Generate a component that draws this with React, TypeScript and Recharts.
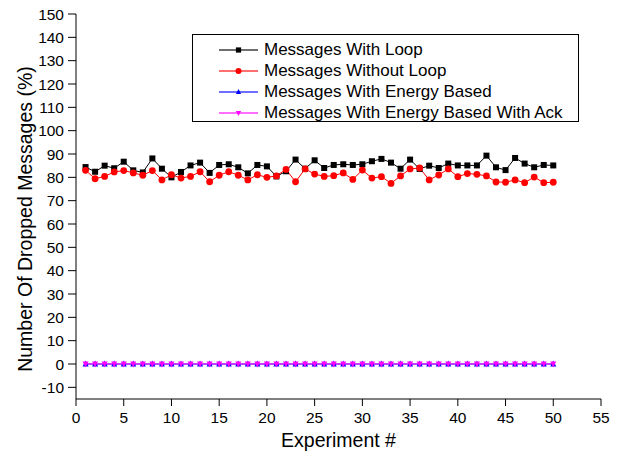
import React from 'react'
import { LineChart, Line, XAxis, YAxis, Label } from 'recharts'

const experiments = Array.from({ length: 50 }, (_, i) => i + 1)

const withLoop = [
  84.4, 82.4, 85, 83.9, 86.7, 83, 82.1, 88.1, 83.7, 80,
  82.3, 85.1, 86.3, 81.9, 85.3, 85.6, 84.3, 81.7, 85.3, 84.7,
  80.4, 82.6, 87.6, 83.7, 87.3, 84, 85.3, 85.6, 85.3, 85.6,
  86.9, 87.9, 86.3, 83.7, 87.6, 83.6, 85, 84, 85.9, 85.1,
  85.1, 85.1, 89.3, 84.3, 83.1, 88.3, 85.9, 84.3, 85.3, 85.1,
]

const withoutLoop = [
  83, 79.4, 80.4, 82.3, 82.9, 81.9, 80.9, 82.9, 78.9, 81.1,
  79.7, 80.4, 82.4, 78.1, 80.9, 82.4, 80.9, 78.9, 81.1, 80,
  80.6, 83.4, 78.1, 83.6, 81.4, 80.4, 80.7, 81.9, 79.1, 83.1,
  79.7, 80.3, 77.4, 80.6, 83.6, 84, 78.9, 81, 83.6, 80.3,
  81.6, 81.3, 80.6, 78, 77.9, 78.9, 77.7, 80.1, 77.7, 77.9,
]

const energyBased = experiments.map(() => 0)
const energyBasedAck = experiments.map(() => 0)

const xTicks = [0, 5, 10, 15, 20, 25, 30, 35, 40, 45, 50, 55]
const xMinor = [2.5, 7.5, 12.5, 17.5, 22.5, 27.5, 32.5, 37.5, 42.5, 47.5, 52.5]
const yTicks = [-10, 0, 10, 20, 30, 40, 50, 60, 70, 80, 90, 100, 110, 120, 130, 140, 150]
const yMinor = [-15, -5, 5, 15, 25, 35, 45, 55, 65, 75, 85, 95, 105, 115, 125, 135, 145]

const data = experiments.map((x, i) => ({
  x,
  loop: withLoop[i],
  noLoop: withoutLoop[i],
  energy: energyBased[i],
  energyAck: energyBasedAck[i],
}))

const series = [
  { key: 'loop', name: 'Messages With Loop', color: '#000000', shape: 'square' },
  { key: 'noLoop', name: 'Messages Without Loop', color: '#ff0000', shape: 'circle' },
  { key: 'energy', name: 'Messages With Energy Based', color: '#0000ff', shape: 'up' },
  { key: 'energyAck', name: 'Messages With Energy Based With Ack', color: '#ff00ff', shape: 'down' },
]

const FONT = '"Liberation Sans", Arial, sans-serif'

function Marker({ cx, cy, shape, color, s = 3 }: any) {
  if (cx == null || cy == null) return <g />
  if (shape === 'square')
    return <rect x={cx - s} y={cy - s} width={2 * s} height={2 * s} fill={color} />
  if (shape === 'circle') return <circle cx={cx} cy={cy} r={s + 0.4} fill={color} />
  if (shape === 'up')
    return <polygon points={`${cx},${cy - s - 0.5} ${cx - s},${cy + s - 0.5} ${cx + s},${cy + s - 0.5}`} fill={color} />
  return <polygon points={`${cx},${cy + s + 0.5} ${cx - s},${cy - s + 0.5} ${cx + s},${cy - s + 0.5}`} fill={color} />
}

const emptyTick = () => <g />

// y title sits a bit below the plot centre in the original
const yTitle = () => (
  <text
    transform="translate(25,219) rotate(-90)"
    textAnchor="middle"
    dominantBaseline="central"
    fill="#000"
    fontSize={19.5}
    fontFamily={FONT}
  >
    Number Of Dropped Messages (%)
  </text>
)

function LegendBox() {
  return (
    <div
      style={{
        position: 'absolute',
        left: 192,
        top: 34,
        border: '1px solid #000',
        width: 385,
        height: 86,
        fontFamily: FONT,
        fontSize: 17,
        background: '#fff',
      }}
    >
      {series.map((s, i) => (
        <div key={s.key} style={{ position: 'absolute', left: 26, top: 4 + i * 21, height: 21, display: 'flex', alignItems: 'center' }}>
          <svg width={40} height={12} style={{ marginRight: 5 }}>
            <line x1={0} y1={6} x2={39} y2={6} stroke={s.color} strokeWidth={1.5} opacity={0.75} />
            <Marker cx={19.5} cy={6} shape={s.shape} color={s.color} s={2.6} />
          </svg>
          <span style={{ color: '#000', whiteSpace: 'nowrap' }}>{s.name}</span>
        </div>
      ))}
    </div>
  )
}

export default function App() {
  return (
    <div style={{ position: 'absolute', left: 0, top: 0, width: 620, height: 458, background: '#fff' }}>
      <LineChart width={620} height={458} data={data} margin={{ top: 14, right: 19, bottom: 0, left: 0 }}>
        <XAxis
          xAxisId="main"
          dataKey="x"
          type="number"
          domain={[0, 55]}
          ticks={xTicks}
          interval={0}
          height={59}
          tickSize={7}
          tickMargin={6}
          stroke="#000"
          tick={{ fill: '#000', fontSize: 15.5, fontFamily: FONT }}
          allowDataOverflow
        >
          <Label value="Experiment #" position="insideBottom" offset={11} style={{ fill: '#000', fontSize: 19.5, fontFamily: FONT }} />
        </XAxis>
        <XAxis xAxisId="minor" dataKey="x" type="number" domain={[0, 55]} ticks={xMinor} interval={0} height={0} tickSize={4} stroke="#000" tick={emptyTick} axisLine={false} />
        <XAxis xAxisId="top" orientation="top" dataKey="x" type="number" domain={[0, 55]} height={0} tick={false} tickLine={false} stroke="#000" />
        <YAxis
          yAxisId="main"
          type="number"
          domain={[-15, 150]}
          ticks={yTicks}
          interval={0}
          width={76}
          tickSize={8}
          tickMargin={4}
          stroke="#000"
          tick={{ fill: '#000', fontSize: 15.5, fontFamily: FONT }}
          allowDataOverflow
        >
          <Label content={yTitle} />
        </YAxis>
        <YAxis yAxisId="minor" type="number" domain={[-15, 150]} ticks={yMinor} interval={0} width={0} tickSize={4} stroke="#000" tick={emptyTick} axisLine={false} />
        <YAxis yAxisId="right" orientation="right" type="number" domain={[-15, 150]} width={0} tick={false} tickLine={false} stroke="#000" />
        {series.map((s) => (
          <Line
            key={s.key}
            xAxisId="main"
            yAxisId="main"
            dataKey={s.key}
            name={s.name}
            stroke={s.color}
            strokeWidth={1}
            isAnimationActive={false}
            dot={(p: any) => <Marker key={`${s.key}-${p.index}`} cx={p.cx} cy={p.cy} shape={s.shape} color={s.color} />}
            activeDot={false}
          />
        ))}
      </LineChart>
      <LegendBox />
    </div>
  )
}
